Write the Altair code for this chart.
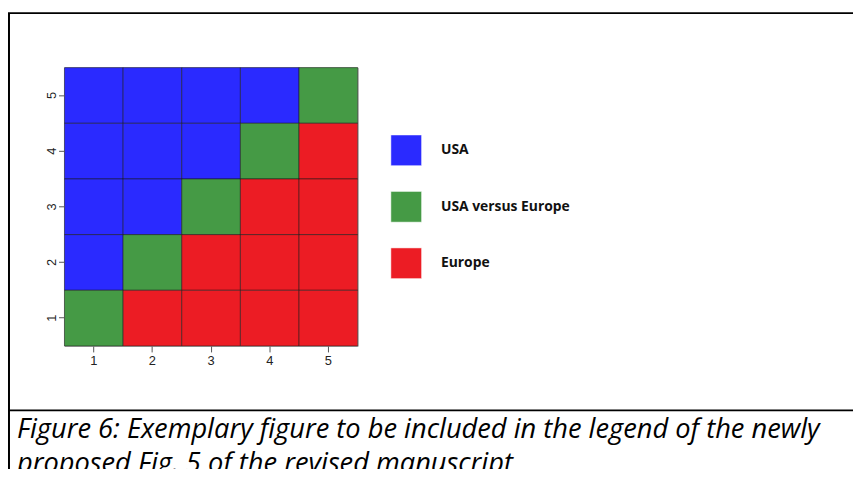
import altair as alt
import pandas as pd

# ---- data ----
cols = [1, 2, 3, 4, 5] * 5
rows = [5] * 5 + [4] * 5 + [3] * 5 + [2] * 5 + [1] * 5
cats = [
    "USA", "USA", "USA", "USA", "USA versus Europe",
    "USA", "USA", "USA", "USA versus Europe", "Europe",
    "USA", "USA", "USA versus Europe", "Europe", "Europe",
    "USA", "USA versus Europe", "Europe", "Europe", "Europe",
    "USA versus Europe", "Europe", "Europe", "Europe", "Europe",
]
legend_labels = ["USA", "USA versus Europe", "Europe"]
legend_colors = ["#2a2aff", "#459a45", "#ec1c24"]
caption_lines = [
    "Figure 6: Exemplary figure to be included in the legend of the newly",
    "proposed Fig. 5 of the revised manuscript",
]

heat_df = pd.DataFrame({"col": cols, "row": rows, "cat": cats})
leg_df = pd.DataFrame({"label": legend_labels})
cap_df = pd.DataFrame({"line": caption_lines, "idx": [0, 1]})
one = pd.DataFrame({"a": [0]})

color_scale = alt.Scale(domain=legend_labels, range=legend_colors)

heat = alt.Chart(heat_df).mark_rect(stroke="#1a1a1a", strokeWidth=1, strokeOpacity=0.55).encode(
    x=alt.X("col:O", scale=alt.Scale(paddingInner=0, paddingOuter=0),
            axis=alt.Axis(title=None, labelAngle=0, domain=False, tickSize=6,
                          tickColor="#555", labelColor="#222", labelFont="Liberation Sans",
                          labelFontSize=13, labelPadding=3)),
    y=alt.Y("row:O", sort="descending", scale=alt.Scale(paddingInner=0, paddingOuter=0),
            axis=alt.Axis(title=None, labelAngle=270, domain=False, tickSize=6,
                          tickColor="#555", labelColor="#222", labelFont="Liberation Sans",
                          labelFontSize=13, labelPadding=7, labelBaseline="middle",
                          labelAlign="center")),
    color=alt.Color("cat:N", scale=color_scale, legend=None),
)

leg_y = alt.Y("label:N", sort=legend_labels,
              scale=alt.Scale(type="point", domain=legend_labels, range=[83.5, 197.5], padding=0),
              axis=None)

leg_sq = alt.Chart(leg_df).mark_square(size=961, opacity=1, stroke="#ffffff",
                                       strokeOpacity=0.5, strokeWidth=1).encode(
    x=alt.value(345),
    y=leg_y,
    color=alt.Color("label:N", scale=color_scale, legend=None),
)

leg_txt = alt.Chart(leg_df).mark_text(align="left", baseline="middle", font="Open Sans",
                                      fontWeight="bold", fontSize=14, color="#111").encode(
    x=alt.value(380),
    y=leg_y,
    text="label:N",
)

frame_left = alt.Chart(one).mark_rule(color="#000", strokeWidth=2).encode(
    x=alt.value(-56), y=alt.value(-55), y2=alt.value(420))
frame_top = alt.Chart(one).mark_rule(color="#000", strokeWidth=2).encode(
    x=alt.value(-57), x2=alt.value(800), y=alt.value(-55))
frame_sep = alt.Chart(one).mark_rule(color="#000", strokeWidth=2).encode(
    x=alt.value(-57), x2=alt.value(800), y=alt.value(346))

cap = alt.Chart(cap_df).mark_text(align="left", baseline="alphabetic", font="Open Sans",
                                  fontStyle="italic", fontSize=27.5, color="#000").encode(
    x=alt.value(-48),
    y=alt.Y("idx:Q", scale=alt.Scale(domain=[0, 1], range=[374, 408]), axis=None),
    text="line:N",
)

chart = alt.layer(heat, leg_sq, leg_txt, frame_left, frame_top, frame_sep, cap).resolve_scale(
    x="independent", y="independent", color="shared"
).properties(
    width=296, height=281,
    autosize=alt.AutoSizeParams(type="none"),
    padding={"left": 57, "top": 58, "right": 500, "bottom": 122},
    background="white",
).configure_view(stroke="#aaaaaa", strokeWidth=1)

chart.save("out.html", embed_options={"renderer": "svg", "actions": False})
